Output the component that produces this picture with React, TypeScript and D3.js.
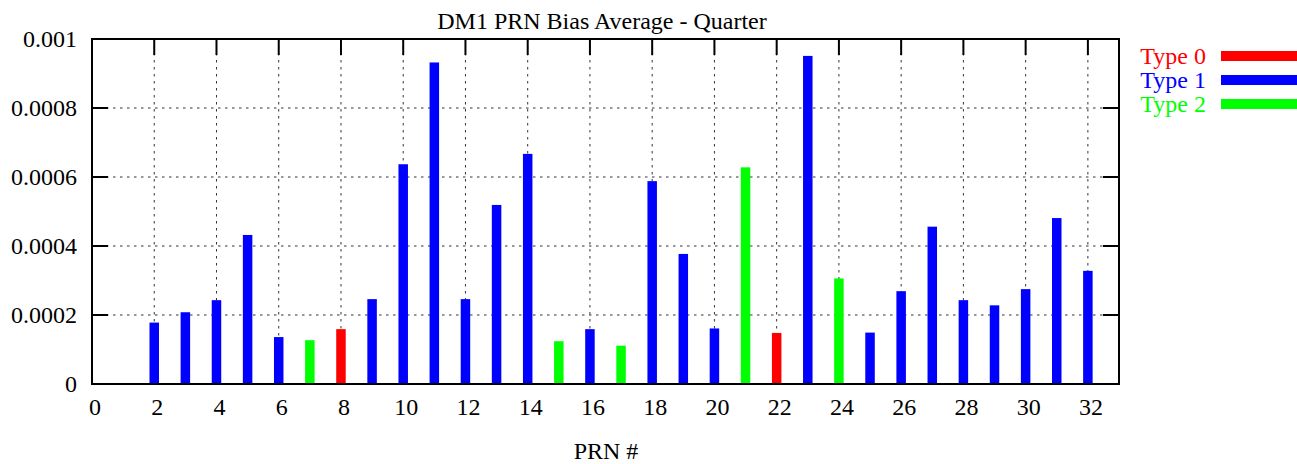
import React from "react";
import * as d3 from "d3";

const prns = [2, 3, 4, 5, 6, 7, 8, 9, 10, 11, 12, 13, 14, 15, 16, 17, 18, 19, 20, 21, 22, 23, 24, 25, 26, 27, 28, 29, 30, 31, 32];
const biasValues = [
  0.000178, 0.000208, 0.000243, 0.000432, 0.000136, 0.000127, 0.000159, 0.000246,
  0.000637, 0.000932, 0.000246, 0.000519, 0.000667, 0.000124, 0.000159, 0.000111,
  0.000588, 0.000377, 0.000161, 0.000628, 0.000148, 0.000951, 0.000306, 0.000149,
  0.000269, 0.000456, 0.000243, 0.000228, 0.000275, 0.000481, 0.000328,
];
const prnTypes = [1, 1, 1, 1, 1, 2, 0, 1, 1, 1, 1, 1, 1, 2, 1, 2, 1, 1, 1, 2, 0, 1, 2, 1, 1, 1, 1, 1, 1, 1, 1];
const typeLabels = ["Type 0", "Type 1", "Type 2"];
const typeColors = ["#ff0000", "#0000ff", "#00ff00"];
const xTicks = [0, 2, 4, 6, 8, 10, 12, 14, 16, 18, 20, 22, 24, 26, 28, 30, 32];
const yTicks = [0, 0.0002, 0.0004, 0.0006, 0.0008, 0.001];
const yTickLabels = ["0", "0.0002", "0.0004", "0.0006", "0.0008", "0.001"];

const W = 1297;
const H = 464;
const left = 92;
const right = 1119;
const top = 39;
const bottom = 384;
const font = "'Liberation Serif', 'Times New Roman', serif";

export default function App() {
  const x = d3.scaleLinear().domain([0, 33]).range([left, right]);
  const y = d3.scaleLinear().domain([0, 0.001]).range([bottom, top]);
  const barW = 9.5;
  const tickLen = 16;

  return (
    <div style={{ position: "absolute", left: 0, top: 0 }}>
      <svg width={W} height={H} style={{ display: "block", background: "#fff" }}>
        {/* grid */}
        <g stroke="#333" strokeWidth={1} strokeDasharray="2.5,4.5" fill="none">
          {xTicks.filter((t) => t > 0).map((t) => (
            <line key={"gx" + t} x1={x(t)} x2={x(t)} y1={top} y2={bottom} />
          ))}
          {yTicks.filter((t) => t > 0 && t < 0.001).map((t) => (
            <line key={"gy" + t} x1={left} x2={right} y1={y(t)} y2={y(t)} />
          ))}
        </g>
        {/* ticks */}
        <g stroke="#000" strokeWidth={2}>
          {xTicks.filter((t) => t > 0).map((t) => (
            <g key={"tx" + t}>
              <line x1={x(t)} x2={x(t)} y1={top} y2={top + tickLen} />
              <line x1={x(t)} x2={x(t)} y1={bottom} y2={bottom - tickLen} />
            </g>
          ))}
          {yTicks.map((t) => (
            <g key={"ty" + t}>
              <line x1={left} x2={left + tickLen} y1={y(t)} y2={y(t)} />
              <line x1={right} x2={right - tickLen} y1={y(t)} y2={y(t)} />
            </g>
          ))}
        </g>
        {/* bars */}
        <g>
          {prns.map((p, i) => (
            <rect
              key={"b" + p}
              x={x(p) - barW / 2}
              y={y(biasValues[i])}
              width={barW}
              height={y(0) - y(biasValues[i])}
              fill={typeColors[prnTypes[i]]}
            />
          ))}
        </g>
        {/* frame */}
        <rect x={left} y={top} width={right - left} height={bottom - top} fill="none" stroke="#000" strokeWidth={2} />
        {/* tick labels */}
        <g fontFamily={font} fontSize={24} fill="#000">
          {yTicks.map((t, i) => (
            <text key={"ly" + t} x={77} y={y(t) + 8} textAnchor="end">
              {yTickLabels[i]}
            </text>
          ))}
          {xTicks.map((t) => (
            <text key={"lx" + t} x={x(t) + 3} y={415} textAnchor="middle">
              {t}
            </text>
          ))}
          <text x={602} y={29} textAnchor="middle">DM1 PRN Bias Average - Quarter</text>
          <text x={606} y={459} textAnchor="middle">PRN #</text>
        </g>
        {/* legend */}
        <g fontFamily={font} fontSize={24}>
          {typeLabels.map((lab, i) => (
            <g key={lab}>
              <text x={1206} y={64 + i * 24} textAnchor="end" fill={typeColors[i]}>
                {lab}
              </text>
              <line x1={1221} x2={1297} y1={56 + i * 24} y2={56 + i * 24} stroke={typeColors[i]} strokeWidth={10} />
            </g>
          ))}
        </g>
      </svg>
    </div>
  );
}
